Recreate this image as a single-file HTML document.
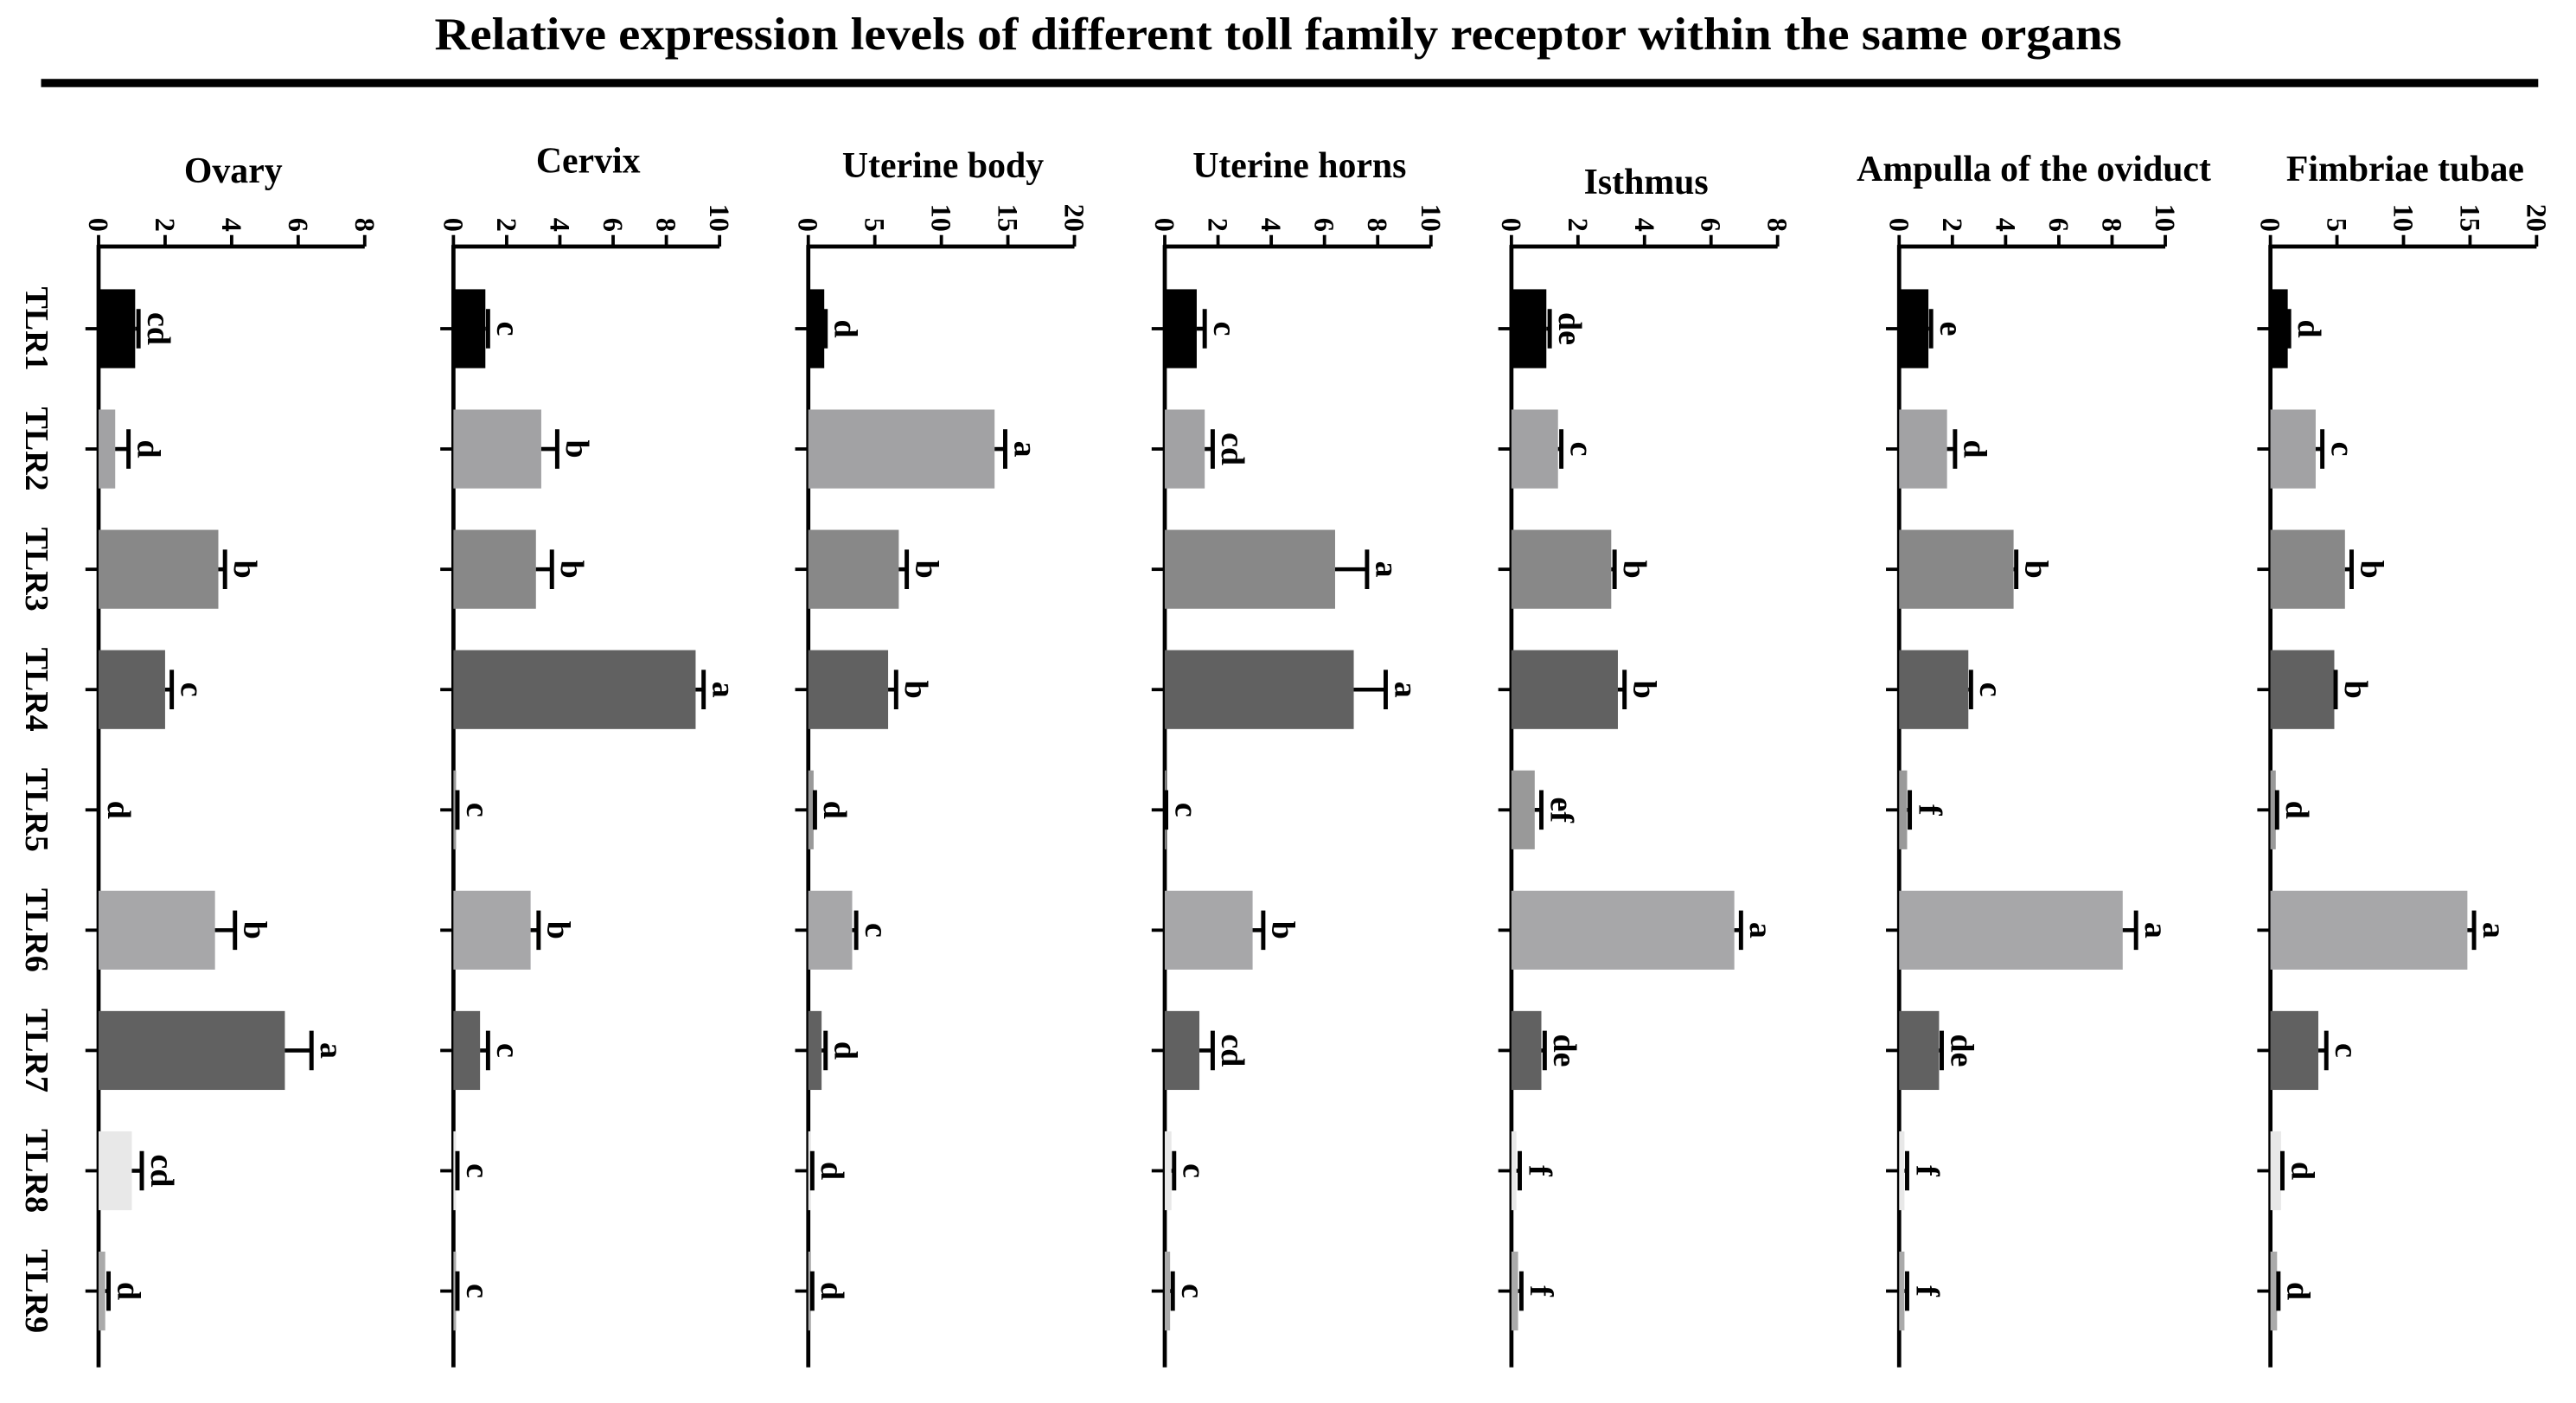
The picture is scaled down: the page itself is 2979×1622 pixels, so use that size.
<!DOCTYPE html>
<html><head><meta charset="utf-8"><style>
html,body{margin:0;padding:0;background:#fff}
svg{display:block}
text{font-family:"Liberation Serif",serif;font-weight:bold;fill:#000}
</style></head><body>
<svg id="chart" width="2979" height="1622" viewBox="0 0 1568 853.7" xmlns="http://www.w3.org/2000/svg">
<text x="778" y="30" font-size="28" text-anchor="middle" textLength="1027" lengthAdjust="spacingAndGlyphs">Relative expression levels of different toll family receptor within the same organs</text>
<rect x="25" y="48" width="1520" height="5" fill="#000"/>
<g id="plots"></g>
</svg>
<script>
const categories = ["TLR1","TLR2","TLR3","TLR4","TLR5","TLR6","TLR7","TLR8","TLR9"];
const organs = ["Ovary","Cervix","Uterine body","Uterine horns","Isthmus","Ampulla of the oviduct","Fimbriae tubae"];
const axisMax = [8,10,20,10,8,10,20];
const tickStep = [2,2,5,2,2,2,5];
const ovaryVals = [1.1,0.5,3.6,2.0,0,3.5,5.6,1.0,0.2];
const ovaryErr = [0.1,0.4,0.2,0.2,0,0.6,0.8,0.3,0.1];
const ovaryLetters = ["cd","d","b","c","d","b","a","cd","d"];
const cervixVals = [1.2,3.3,3.1,9.1,0.1,2.9,1.0,0.1,0.1];
const cervixErr = [0.1,0.6,0.6,0.3,0.05,0.3,0.3,0.05,0.05];
const cervixLetters = ["c","b","b","a","c","b","c","c","c"];
const bodyVals = [1.2,14.0,6.8,6.0,0.4,3.3,1.0,0.2,0.2];
const bodyErr = [0.1,0.8,0.6,0.6,0.1,0.3,0.3,0.1,0.1];
const bodyLetters = ["d","a","b","b","d","c","d","d","d"];
const hornsVals = [1.2,1.5,6.4,7.1,0.05,3.3,1.3,0.25,0.2];
const hornsErr = [0.3,0.3,1.2,1.2,0,0.4,0.5,0.1,0.1];
const hornsLetters = ["c","cd","a","a","c","b","cd","c","c"];
const isthmusVals = [1.05,1.4,3.0,3.2,0.7,6.7,0.9,0.15,0.2];
const isthmusErr = [0.1,0.1,0.1,0.2,0.2,0.2,0.1,0.1,0.1];
const isthmusLetters = ["de","c","b","b","ef","a","de","f","f"];
const ampullaVals = [1.1,1.8,4.3,2.6,0.3,8.4,1.5,0.2,0.2];
const ampullaErr = [0.1,0.3,0.1,0.1,0.1,0.5,0.1,0.1,0.1];
const ampullaLetters = ["e","d","b","c","f","a","de","f","f"];
const fimbriaeVals = [1.3,3.4,5.6,4.8,0.4,14.8,3.6,0.8,0.5];
const fimbriaeErr = [0.1,0.5,0.5,0.1,0.1,0.5,0.6,0.1,0.1];
const fimbriaeLetters = ["d","c","b","b","d","a","c","d","d"];

const allVals=[ovaryVals,cervixVals,bodyVals,hornsVals,isthmusVals,ampullaVals,fimbriaeVals];
const allErr=[ovaryErr,cervixErr,bodyErr,hornsErr,isthmusErr,ampullaErr,fimbriaeErr];
const allLetters=[ovaryLetters,cervixLetters,bodyLetters,hornsLetters,isthmusLetters,ampullaLetters,fimbriaeLetters];

const NS="http://www.w3.org/2000/svg";
const root=document.getElementById('plots');
const panelX=[60,276,492,709,920,1156,1382];
const titleY=[111,105,108,108,118,110,110];
const axW=162, axTop=150, axBot=832;
const colors=["#000","#a2a2a4","#888","#616161","#999","#a7a7a9","#616161","#e8e8e8","#aaa"];
function catY(i){return 200+i*73.2;}
function mk(tag,attrs,parent){const e=document.createElementNS(NS,tag);for(const k in attrs)e.setAttribute(k,attrs[k]);(parent||root).appendChild(e);return e;}
function rtext(x,y,str,size,anchor,parent){const t=mk('text',{x:0,y:0,'font-size':size,'text-anchor':anchor,'dominant-baseline':'central',transform:`translate(${x},${y}) rotate(90)`},parent);t.textContent=str;return t;}

categories.forEach((c,i)=>{
  const t=rtext(22,catY(i),c,20,'middle');
  
  
});

organs.forEach((org,p)=>{
  const x0=panelX[p], max=axisMax[p];
  const sx=v=>x0+v/max*axW;
  const g=mk('g',{});
  
  
  const tt=mk('text',{x:x0+82,y:titleY[p],'font-size':22,'text-anchor':'middle'},g);
  tt.textContent=org;
  
  
  const ax=mk('line',{x1:x0,y1:axTop,x2:x0+axW,y2:axTop,stroke:'#000','stroke-width':2.5},g);
  
  
  for(let v=0;v<=max+1e-9;v+=tickStep[p]){
    mk('line',{x1:sx(v),y1:axTop,x2:sx(v),y2:axTop-7,stroke:'#000','stroke-width':2},g);
    const tl=rtext(sx(v),141,String(v),17,'end',g);
    
    
  }
  const ca=mk('line',{x1:x0,y1:axTop-1,x2:x0,y2:axBot,stroke:'#000','stroke-width':2.5},g);
  
  
  categories.forEach((c,i)=>{
    const y=catY(i), v=allVals[p][i], e=allErr[p][i];
    mk('line',{x1:x0-8,y1:y,x2:x0,y2:y,stroke:'#000','stroke-width':2},g);
    const b=mk('rect',{x:x0,y:y-24,width:Math.max(0,sx(v)-x0),height:48,fill:colors[i]},g);
    
    
    const xe=sx(v+e);
    if(v>0){
      mk('line',{x1:sx(v),y1:y,x2:xe,y2:y,stroke:'#000','stroke-width':2.4},g);
      const cap=mk('line',{x1:xe,y1:y-12,x2:xe,y2:y+12,stroke:'#000','stroke-width':2.6},g);
      
      
    }
    const lt=rtext(Math.max(xe,sx(v))+12,y,allLetters[p][i],20,'middle',g);
    
    
  });
});
</script>
</body></html>
